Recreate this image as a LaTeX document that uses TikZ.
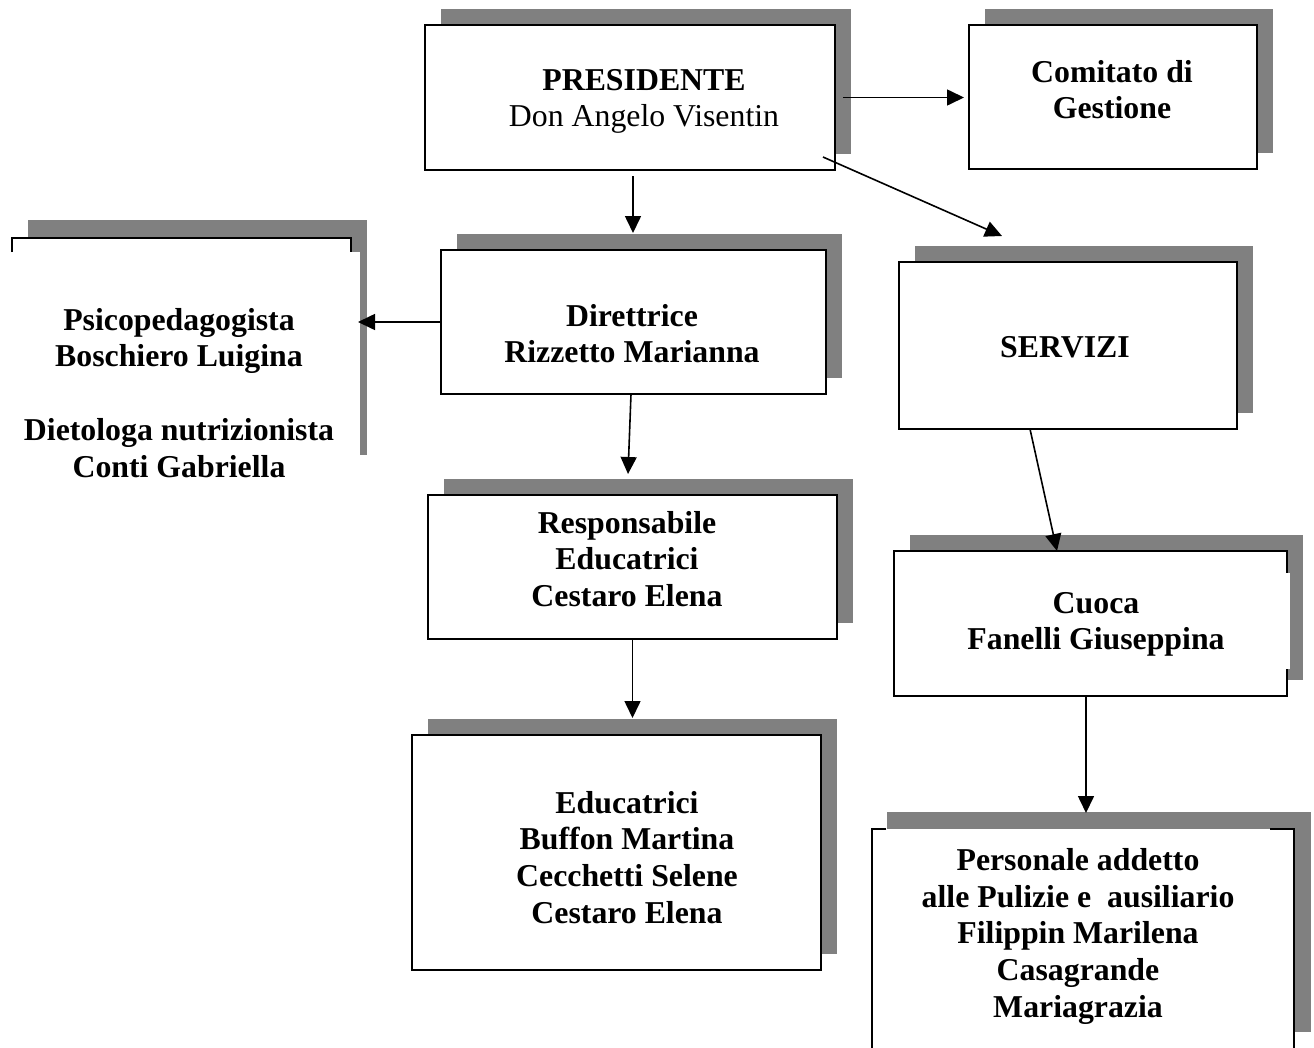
\documentclass[tikz,border=0pt]{standalone}
\usepackage{fontspec}
\setmainfont{Liberation Serif}
\usetikzlibrary{arrows.meta,calc,backgrounds}
\begin{document}
\begin{tikzpicture}[x=1pt,y=-1pt,
  box/.style={draw=black,line width=2pt,fill=white,inner sep=0pt,outer sep=0pt},
  plainbox/.style={fill=white,inner sep=0pt,outer sep=0pt},
  shade/.style={fill=gray},
  txt/.style={inner sep=0pt,align=center,font=\fontsize{31.8pt}{36.8pt}\selectfont\bfseries},
  arr/.style={line width=1.6pt,-{Triangle[length=17pt,width=16pt]}},
  edge/.style={line width=2pt}]
\useasboundingbox (0,0) rectangle (1314,1047);
\clip (0,0) rectangle (1314,1047);

% manual shadows for the irregular boxes
\fill[shade] (28,220) rectangle (367,455);
\fill[shade] (887,812) rectangle (1311,1032);

% boxes
\node[box,minimum width=410pt,minimum height=145pt] (pres) at (630,97.5) {};
\node[box,minimum width=288pt,minimum height=144pt] (com) at (1113,97) {};
\node[box,minimum width=385pt,minimum height=144pt] (dir) at (633.5,322) {};
\node[box,minimum width=338pt,minimum height=167pt] (serv) at (1068,345.5) {};
\node[box,minimum width=409pt,minimum height=144pt] (resp) at (632.5,567) {};
\node[box,minimum width=409pt,minimum height=235pt] (edu) at (616.5,852.5) {};
\node[box,minimum width=393pt,minimum height=145pt] (cuoca) at (1090.5,623.5) {};
\node[plainbox,minimum width=339pt,minimum height=252pt] (lb) at (181.5,364) {};
\node[plainbox,minimum width=422pt,minimum height=231pt] (pers) at (1083,944.5) {};

\begin{scope}[on background layer]
  \foreach \b in {pres,com,dir,serv,resp,edu,cuoca}{
    \fill[shade] ($(\b.north west)+(16,-16)$) rectangle ($(\b.south east)+(16,-16)$);
  }
\end{scope}

% irregular borders
\fill[white] (350,252) rectangle (360,490);
\fill[shade] (360,252) rectangle (367,455);
\draw[line width=1.5pt] (12,252) -- (12,238) -- (351,238) -- (351,252);
\fill[white] (1285,573) rectangle (1289.5,669);
\draw[edge] (886,829) -- (872,829) -- (872,1060);
\draw[edge] (1270,829) -- (1294,829) -- (1294,1060);

% texts
\node[txt] (presT) at (644,101.4) {PRESIDENTE\\{\mdseries Don Angelo Visentin}};
\node[txt] (comT) at (1112,89.7) {Comitato di\\Gestione};
\node[txt] (dirT) at (632,333.7) {Direttrice\\Rizzetto Marianna};
\node[txt] (lbT) at (179,392.9) {Psicopedagogista\\Boschiero Luigina\\[36.8pt]Dietologa nutrizionista\\Conti Gabriella};
\node[txt] (servT) at (1065,347.5) {SERVIZI};
\node[txt] (respT) at (627,559) {Responsabile\\Educatrici\\Cestaro Elena};
\node[txt] (eduT) at (627,857.5) {Educatrici\\Buffon Martina\\Cecchetti Selene\\Cestaro Elena};
\node[txt] (cuocaT) at (1096,624.4) {Cuoca\\Fanelli Giuseppina};
\node[txt] (persT) at (1078,936.3) {Personale addetto\\alle Pulizie e~ ausiliario\\Filippin Marilena\\Casagrande\\Mariagrazia};

% connectors
\draw[arr] ($(pres.east)+(8,0)$) -- ($(pres.east -| com.west)+(-5,0)$);
\draw[arr] ($(pres.south east)+(-12,-13)$) -- ($(serv.north)+(-66,-26)$);
\draw[arr] ($(pres.south)+(3,6)$) -- ($(dir.north)+(-0.5,-17)$);
\draw[arr] (dir.west) -- ($(dir.west -| lb.east)+(7,0)$);
\draw[arr] ($(dir.south)+(-2.5,0)$) -- ($(resp.north)+(-4.5,-21)$);
\draw[arr] (resp.south) -- ($(resp.south |- edu.north)+(0,-17)$);
\draw[arr] ($(serv.south)+(-38,0)$) -- ($(cuoca.north)+(-33.5,0)$);
\draw[arr] ($(cuoca.south)+(-4.5,0)$) -- ($(cuoca.south |- pers.north)+(-4.5,-16)$);
\end{tikzpicture}
\end{document}
